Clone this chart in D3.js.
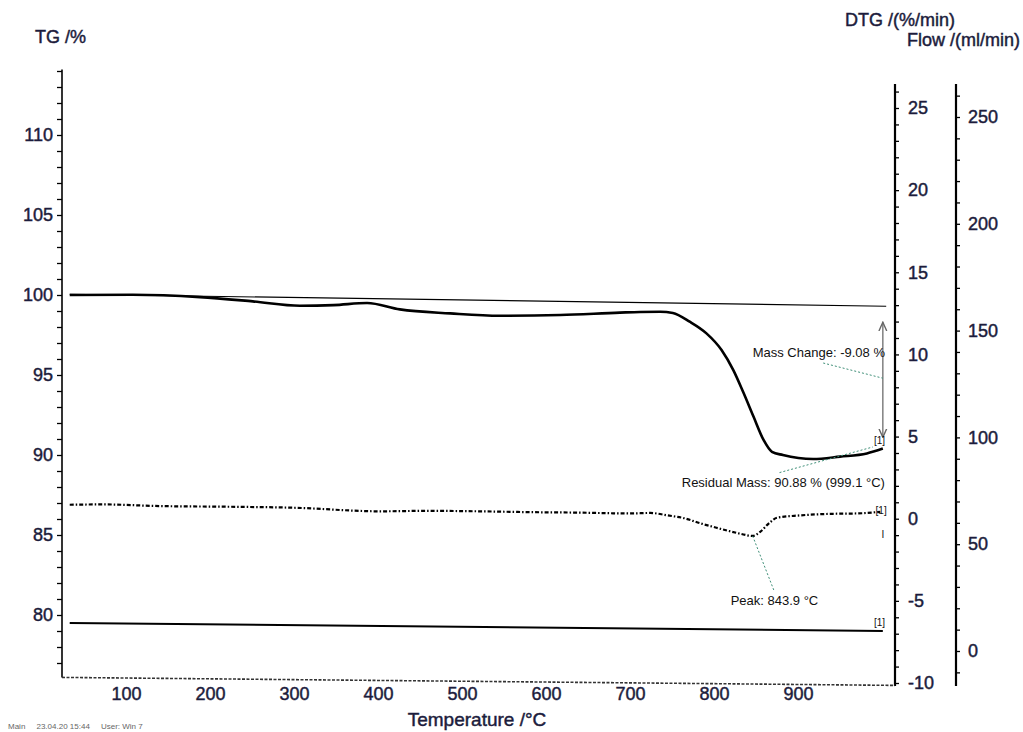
<!DOCTYPE html>
<html>
<head>
<meta charset="utf-8">
<script src="https://cdn.jsdelivr.net/npm/d3@7"></script>
<style>
  body { margin: 0; background: #fff; }
  svg { font-family: "Liberation Sans", Arial, sans-serif; }
  .heavy { stroke-width: 0.45px; }
</style>
</head>
<body>
<div class="tg-plot"></div>
<script>
// TG curve (mass %) vs temperature
const tgTemp = [33, 108, 188, 251, 307, 347, 387, 426, 486, 545, 617, 688, 712, 736, 751, 771, 791, 809, 823, 835, 847, 859, 869, 882, 918, 950, 982, 1001];
const tgMass = [100.0, 100.02, 99.87, 99.6, 99.33, 99.37, 99.5, 99.1, 98.85, 98.7, 98.75, 98.9, 98.94, 98.95, 98.87, 98.33, 97.6, 96.56, 95.3, 93.9, 92.4, 90.94, 90.2, 90.0, 89.75, 89.9, 90.1, 90.4];

// DTG curve (%/min)
const dtgTemp = [33, 73, 140, 220, 299, 402, 460, 521, 580, 640, 700, 724, 745, 763, 785, 803, 818, 831, 846, 855, 865, 875, 902, 942, 970, 998];
const dtgRate = [0.85, 0.87, 0.77, 0.73, 0.67, 0.45, 0.48, 0.45, 0.4, 0.37, 0.32, 0.35, 0.2, 0.05, -0.3, -0.55, -0.75, -0.91, -1.05, -0.8, -0.3, 0.06, 0.2, 0.3, 0.32, 0.42];

// purge flow (ml/min)
const flowTemp = [33, 1001];
const flowRate = [13.1, 9.4];

// thin reference line for mass change
const baseTemp = [33, 1005];
const baseMass = [100.05, 99.3];

const xTicks = [100, 200, 300, 400, 500, 600, 700, 800, 900];
const tgTicks = [80, 85, 90, 95, 100, 105, 110];
const dtgTicks = [-10, -5, 0, 5, 10, 15, 20, 25];
const flowTicks = [0, 50, 100, 150, 200, 250];

const width = 1023;
const height = 732;
const leftAxisX = 62, dtgAxisX = 895, flowAxisX = 956;

const svg = d3.select('.tg-plot')
    .append('svg')
    .attr('width', width)
    .attr('height', height);

const x = d3.scaleLinear().domain([0, 1000]).range([42, 882]);
const yTG = d3.scaleLinear().domain([80, 110]).range([615, 135]);
const yDTG = d3.scaleLinear().domain([-10, 25]).range([683, 108]);
const yFlow = d3.scaleLinear().domain([0, 250]).range([651, 117]);

const numColor = '#1c1c3c';

function styleLabels(g) {
    g.selectAll('text')
        .attr('font-size', 18)
        .attr('fill', numColor)
        .attr('stroke', numColor)
        .attr('class', 'heavy')
        .attr('font-family', '"Liberation Sans", Arial, sans-serif');
}

// ---- left TG axis
svg.append('line')
    .attr('x1', leftAxisX).attr('x2', leftAxisX)
    .attr('y1', yTG(114.1)).attr('y2', yTG(76.1))
    .attr('stroke', '#000').attr('stroke-width', 1.6);

const tgAxis = svg.append('g')
    .attr('transform', `translate(${leftAxisX},0)`)
    .call(d3.axisLeft(yTG)
        .tickValues(d3.range(77, 115))
        .tickSize(5)
        .tickPadding(4)
        .tickFormat(d => tgTicks.includes(d) ? d : ''));
tgAxis.select('.domain').remove();
tgAxis.selectAll('line').attr('stroke', '#000').attr('stroke-width', 1.3);
styleLabels(tgAxis);

// ---- DTG axis
svg.append('line')
    .attr('x1', dtgAxisX).attr('x2', dtgAxisX)
    .attr('y1', 84).attr('y2', 686)
    .attr('stroke', '#000').attr('stroke-width', 2.2);

const dtgAxis = svg.append('g')
    .attr('transform', `translate(${dtgAxisX},0)`)
    .call(d3.axisRight(yDTG)
        .tickValues(d3.range(-10, 27))
        .tickSize(4)
        .tickPadding(9)
        .tickFormat(d => dtgTicks.includes(d) ? d : ''));
dtgAxis.select('.domain').remove();
dtgAxis.selectAll('line').attr('stroke', '#000').attr('stroke-width', 1.3);
styleLabels(dtgAxis);

// ---- Flow axis
svg.append('line')
    .attr('x1', flowAxisX).attr('x2', flowAxisX)
    .attr('y1', 84).attr('y2', 686)
    .attr('stroke', '#000').attr('stroke-width', 2.2);

const flowAxis = svg.append('g')
    .attr('transform', `translate(${flowAxisX},0)`)
    .call(d3.axisRight(yFlow)
        .tickValues(d3.range(-10, 270, 10))
        .tickSize(4)
        .tickPadding(8)
        .tickFormat(d => flowTicks.includes(d) ? d : ''));
flowAxis.select('.domain').remove();
flowAxis.selectAll('line').attr('stroke', '#000').attr('stroke-width', 1.3);
styleLabels(flowAxis);

// ---- bottom temperature axis (scanned dotted line)
svg.append('line')
    .attr('x1', leftAxisX).attr('x2', dtgAxisX)
    .attr('y1', yTG(76.1)).attr('y2', yTG(75.6))
    .attr('stroke', '#333').attr('stroke-width', 1.6)
    .attr('stroke-dasharray', '3,1.5');

const xAxis = svg.append('g')
    .attr('transform', `translate(0,${yTG(76.1)})`)
    .call(d3.axisBottom(x).tickValues(xTicks).tickSize(0).tickPadding(10));
xAxis.select('.domain').remove();
styleLabels(xAxis);

// ---- axis titles
const titles = [
    {x: 35, y: 43, text: 'TG /%', anchor: 'start', size: 18},
    {x: 845, y: 26, text: 'DTG /(%/min)', anchor: 'start', size: 18},
    {x: 1020, y: 46, text: 'Flow /(ml/min)', anchor: 'end', size: 18},
    {x: 477, y: 726, text: 'Temperature /°C', anchor: 'middle', size: 19}
];
svg.selectAll('.title')
    .data(titles)
    .enter()
    .append('text')
    .attr('class', 'title heavy')
    .attr('x', d => d.x)
    .attr('y', d => d.y)
    .attr('text-anchor', d => d.anchor)
    .attr('font-size', d => d.size)
    .attr('fill', numColor)
    .attr('stroke', numColor)
    .text(d => d.text);

svg.append('text').attr('x', 8).attr('y', 729)
    .style('white-space', 'pre')
    .text('Main     23.04.20 15:44     User: Win 7')
    .attr('font-size', 8).attr('fill', '#666');

// ---- curves
const baseLine = d3.line().x((d, i) => x(baseTemp[i])).y(d => yTG(d));
svg.append('path').datum(baseMass)
    .attr('d', baseLine)
    .attr('fill', 'none').attr('stroke', '#000').attr('stroke-width', 1.1);

const flowLine = d3.line().x((d, i) => x(flowTemp[i])).y(d => yFlow(d));
svg.append('path').datum(flowRate)
    .attr('d', flowLine)
    .attr('fill', 'none').attr('stroke', '#000').attr('stroke-width', 2);

const tgLine = d3.line().curve(d3.curveMonotoneX)
    .x((d, i) => x(tgTemp[i])).y(d => yTG(d));
svg.append('path').datum(tgMass)
    .attr('d', tgLine)
    .attr('fill', 'none').attr('stroke', '#000').attr('stroke-width', 2.6);

const dtgLine = d3.line().curve(d3.curveMonotoneX)
    .x((d, i) => x(dtgTemp[i])).y(d => yDTG(d));
svg.append('path').datum(dtgRate)
    .attr('d', dtgLine)
    .attr('fill', 'none').attr('stroke', '#000').attr('stroke-width', 2.2)
    .attr('stroke-dasharray', '4,2,1.5,2');

// ---- annotations
const leaderColor = '#3f8f78';
const defs = svg.append('defs');
defs.append('marker').attr('id', 'ah')
    .attr('viewBox', '0 0 10 10').attr('refX', 9).attr('refY', 5)
    .attr('markerWidth', 7).attr('markerHeight', 7).attr('orient', 'auto-start-reverse')
    .append('path').attr('d', 'M0,1 L9,5 L0,9').attr('fill', 'none').attr('stroke', '#666').attr('stroke-width', 1.4);

// mass change arrow
svg.append('line')
    .attr('x1', x(1001)).attr('x2', x(1001))
    .attr('y1', yTG(98.3)).attr('y2', yTG(91.1))
    .attr('stroke', '#777').attr('stroke-width', 1.4)
    .attr('marker-start', 'url(#ah)').attr('marker-end', 'url(#ah)');

svg.append('line')
    .attr('x1', x(930)).attr('y1', yTG(95.75))
    .attr('x2', x(1001)).attr('y2', yTG(94.8))
    .attr('stroke', leaderColor).attr('stroke-width', 1).attr('stroke-dasharray', '2,2');
svg.append('text').attr('x', x(1003.5)).attr('y', yTG(96.1))
    .attr('text-anchor', 'end').attr('font-size', 13).attr('fill', '#111')
    .text('Mass Change: -9.08 %');

// residual mass
svg.append('line')
    .attr('x1', x(878)).attr('y1', yTG(88.9))
    .attr('x2', x(989)).attr('y2', yTG(90.5))
    .attr('stroke', leaderColor).attr('stroke-width', 1).attr('stroke-dasharray', '2,2');
svg.append('text').attr('x', x(1003.5)).attr('y', yTG(88.0))
    .attr('text-anchor', 'end').attr('font-size', 13).attr('fill', '#111')
    .text('Residual Mass: 90.88 % (999.1 °C)');

// peak
svg.append('line')
    .attr('x1', x(846)).attr('y1', yDTG(-1.05))
    .attr('x2', x(872)).attr('y2', yDTG(-4.45))
    .attr('stroke', leaderColor).attr('stroke-width', 1).attr('stroke-dasharray', '2,2');
svg.append('text').attr('x', x(872)).attr('y', yDTG(-4.45) + 13)
    .attr('text-anchor', 'middle').attr('font-size', 13).attr('fill', '#111')
    .text('Peak: 843.9 °C');

// [1] markers
const marks = [
    {t: 997, y: yTG(90.7)},
    {t: 999, y: yDTG(0.3)},
    {t: 997, y: yFlow(11.5)}
];
svg.selectAll('.mk')
    .data(marks)
    .enter()
    .append('text')
    .attr('class', 'mk')
    .attr('x', d => x(d.t))
    .attr('y', d => d.y)
    .attr('text-anchor', 'middle')
    .attr('font-size', 10)
    .attr('fill', '#111')
    .text('[1]');
svg.append('text').attr('x', x(1001)).attr('y', yDTG(-1.2))
    .attr('text-anchor', 'middle').attr('font-size', 10).attr('fill', '#111').text('I');
</script>
</body>
</html>
